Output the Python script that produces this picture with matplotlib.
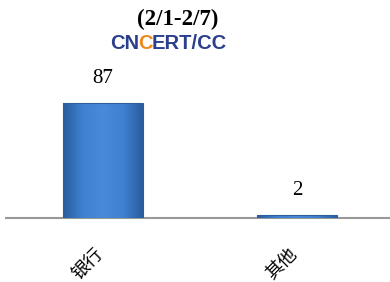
import matplotlib
matplotlib.use("Agg")
import matplotlib.pyplot as plt
import matplotlib.transforms as mtransforms
import numpy as np
from matplotlib.colors import LinearSegmentedColormap

categories = ["银行", "其他"]
values = [87, 2]
title_text = "(2/1-2/7)"

fig = plt.figure(figsize=(3.9, 2.82), dpi=100)
ax = fig.add_axes([6/390, 1 - 218/282, 388/390, 132/282])

x = range(len(categories))
bars = ax.bar(x, values, width=0.41, color="#3B7BCB", edgecolor="#2C5E9E",
              linewidth=0.8, zorder=2)
ax.set_xlim(-0.5, 1.5)
ax.set_ylim(0, 100)

# gradient fill clipped to each bar
cmap = LinearSegmentedColormap.from_list("b", ["#2A5C9E", "#3F82D2", "#4A8BD9", "#3F82D2", "#2A5C9E"])
grad = np.linspace(0, 1, 256).reshape(1, -1)
for b in bars:
    x0, y0 = b.get_x(), b.get_y()
    w, h = b.get_width(), b.get_height()
    im = ax.imshow(grad, extent=[x0, x0 + w, y0, y0 + h], aspect="auto",
                   cmap=cmap, zorder=2.5)
    im.set_clip_path(b)
    b.set_zorder(3)
    b.set_facecolor("none")
ax.set_xlim(-0.5, 1.5)
ax.set_ylim(0, 100)

for xi, v in zip(x, values):
    ax.annotate(str(v), (xi, v), xytext=(0, 11), textcoords="offset points",
                ha="center", va="bottom", fontsize=15, family="Liberation Serif")

for s in ["top", "right", "left"]:
    ax.spines[s].set_visible(False)
ax.spines["bottom"].set_color("#999999")
ax.spines["bottom"].set_linewidth(1.5)
ax.spines["bottom"].set_zorder(1)
ax.set_yticks([])
ax.set_xticks(list(x))
ax.set_xticklabels(categories, rotation=45, ha="right", va="top",
                   fontsize=13, family=["Noto Sans CJK SC", "DejaVu Sans"])
ax.tick_params(axis="x", length=0, pad=19)
for lbl in ax.get_xticklabels():
    lbl.set_transform(lbl.get_transform() + mtransforms.ScaledTranslation(4/100, 0, fig.dpi_scale_trans))

fig.text(178/390, 1 - 19/282, title_text, ha="center", va="center",
         fontsize=16.5, fontweight="bold", family="Liberation Serif")

# logo text, pieces placed adjacently
fig.canvas.draw()
renderer = fig.canvas.get_renderer()
xpix = 110
pieces = [("CN", "#2B3F8C"), ("C", "#F08A1E"), ("ERT/CC", "#2B3F8C")]
for txt, col in pieces:
    t = fig.text(xpix/390, 1 - 43/282, txt, ha="left", va="center", fontsize=14.5,
                 fontweight="bold", family="Liberation Sans", color=col)
    bb = t.get_window_extent(renderer)
    xpix += bb.width - 1

fig.savefig("out.png", dpi=100)
